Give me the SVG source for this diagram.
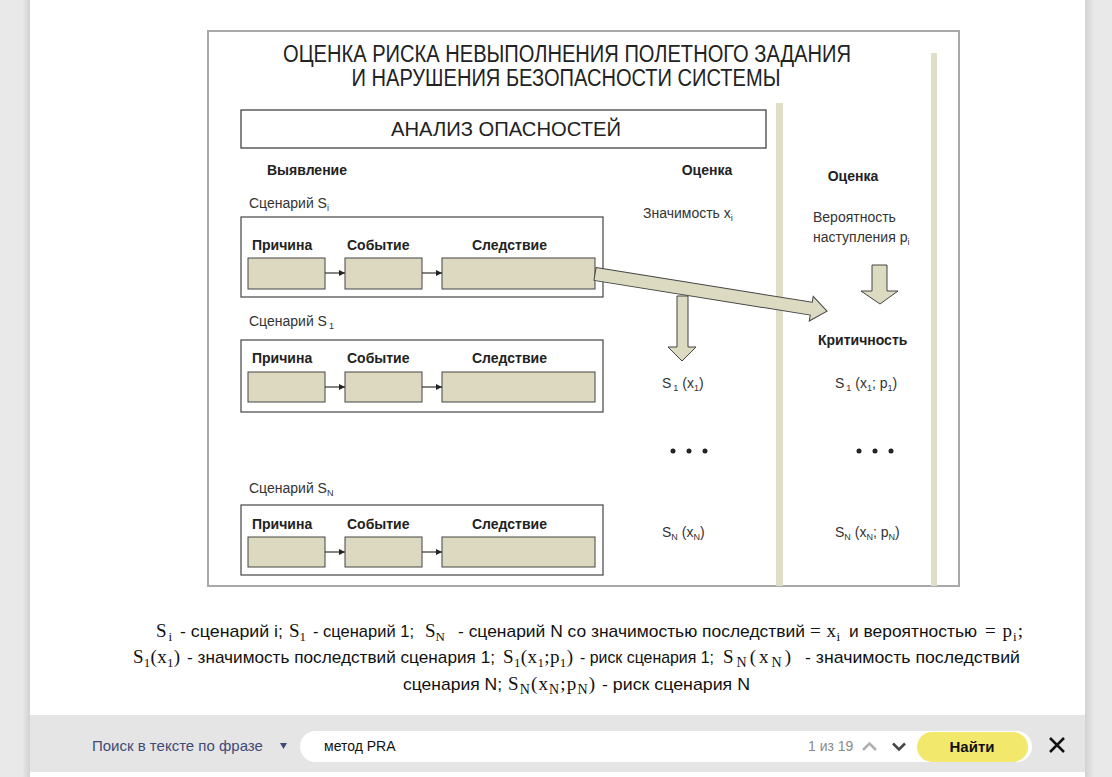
<svg xmlns="http://www.w3.org/2000/svg" width="1112" height="777" viewBox="0 0 1112 777">
<defs>
<linearGradient id="shL" x1="0" x2="1" y1="0" y2="0"><stop offset="0" stop-color="#e9e9e9"/><stop offset="1" stop-color="#d2d2d2"/></linearGradient>
<linearGradient id="shR" x1="0" x2="1" y1="0" y2="0"><stop offset="0" stop-color="#d2d2d2"/><stop offset="1" stop-color="#e9e9e9"/></linearGradient>
<marker id="ah" viewBox="0 0 10 10" refX="10" refY="5" markerWidth="8" markerHeight="6" markerUnits="userSpaceOnUse" orient="auto"><path d="M0,0 L10,5 L0,10 z" fill="#222"/></marker>
<style>
.s{font-family:"Liberation Sans",Arial,sans-serif;fill:#222}
.b{font-family:"Liberation Sans",Arial,sans-serif;font-weight:bold;fill:#222;font-size:14px}
.r{font-family:"Liberation Sans",Arial,sans-serif;fill:#333;font-size:14px}
.t{font-family:"Liberation Serif","Times New Roman",serif;fill:#111;font-size:19px}
.cap{font-family:"Liberation Sans",Arial,sans-serif;fill:#111;font-size:17px}
.frame{fill:#fff;stroke:#a8a8a8;stroke-width:2}
.box{fill:#fff;stroke:#444;stroke-width:1.2}
.in{fill:#dcd9c0;stroke:#444;stroke-width:1}
.bar{fill:#e0dec8}
.big{fill:#dcdac0;stroke:#444;stroke-width:1}
.sm{stroke:#333;stroke-width:1.2;fill:none}
.dot{fill:#222}
.ui{font-family:"Liberation Sans",Arial,sans-serif}
</style>
</defs>
<!-- page -->
<rect x="0" y="0" width="1112" height="777" fill="#e9e9e9"/>
<rect x="22" y="0" width="8" height="777" fill="url(#shL)"/>
<rect x="1085" y="0" width="9" height="777" fill="url(#shR)"/>
<rect x="30" y="0" width="1055" height="777" fill="#fff"/>

<!-- frame -->
<rect class="frame" x="208" y="31" width="751" height="555"/>
<g id="bars">
<rect class="bar" x="776" y="103" width="7" height="483"/>
<rect class="bar" x="931" y="53" width="6" height="533"/>
</g>

<g id="title">
<text class="s" x="567" y="62" font-size="23" text-anchor="middle" textLength="568" lengthAdjust="spacingAndGlyphs">ОЦЕНКА РИСКА НЕВЫПОЛНЕНИЯ ПОЛЕТНОГО ЗАДАНИЯ</text>
<text class="s" x="566" y="86" font-size="23" text-anchor="middle" textLength="429" lengthAdjust="spacingAndGlyphs">И НАРУШЕНИЯ БЕЗОПАСНОСТИ СИСТЕМЫ</text>
</g>

<g id="analiz">
<rect x="241" y="110" width="525" height="38" fill="#fff" stroke="#444" stroke-width="1.3"/>
<text class="s" x="506" y="136" font-size="20" text-anchor="middle" textLength="230" lengthAdjust="spacingAndGlyphs">АНАЛИЗ ОПАСНОСТЕЙ</text>
</g>

<g id="headers">
<text class="b" x="267" y="175">Выявление</text>
<text class="b" x="707" y="175" text-anchor="middle">Оценка</text>
<text class="b" x="853" y="181" text-anchor="middle">Оценка</text>
<text class="r" x="643" y="218">Значимость x<tspan font-size="9" dy="3">i</tspan></text>
<text class="r" x="813" y="222">Вероятность</text>
<text class="r" x="813" y="242">наступления p<tspan font-size="9" dy="3">i</tspan></text>
<text class="b" x="818" y="345">Критичность</text>
</g>

<g id="scenario-i">
<text class="r" x="249" y="208">Сценарий S<tspan font-size="9" dy="3">i</tspan></text>
<rect class="box" x="241" y="217" width="362" height="80"/>
<text class="b" x="252" y="250">Причина</text>
<text class="b" x="347" y="250">Событие</text>
<text class="b" x="472" y="250">Следствие</text>
<rect class="in" x="248" y="258" width="77" height="31"/>
<rect class="in" x="345" y="258" width="77" height="31"/>
<rect class="in" x="442" y="258" width="153" height="31"/>
</g>

<g id="scenario-1">
<text class="r" x="249" y="326">Сценарий S<tspan font-size="9" dx="2" dy="3">1</tspan></text>
<rect class="box" x="241" y="340" width="362" height="72"/>
<text class="b" x="252" y="363">Причина</text>
<text class="b" x="347" y="363">Событие</text>
<text class="b" x="472" y="363">Следствие</text>
<rect class="in" x="248" y="372" width="77" height="30"/>
<rect class="in" x="345" y="372" width="77" height="30"/>
<rect class="in" x="442" y="372" width="153" height="30"/>
</g>

<g id="scenario-N">
<text class="r" x="249" y="493">Сценарий S<tspan font-size="9" dy="3">N</tspan></text>
<rect class="box" x="241" y="505" width="362" height="70"/>
<text class="b" x="252" y="529">Причина</text>
<text class="b" x="347" y="529">Событие</text>
<text class="b" x="472" y="529">Следствие</text>
<rect class="in" x="248" y="537" width="77" height="30"/>
<rect class="in" x="345" y="537" width="77" height="30"/>
<rect class="in" x="442" y="537" width="153" height="30"/>
</g>

<!-- connectors -->
<g id="connectors">
<polygon class="big" points="677,296 688,296 688,347 696,347 682,361 668,347 677,347"/>
<polygon class="big" points="872,265 887,265 887,291 898,291 880,304 861,291 872,291"/>
<polygon class="big" transform="translate(595,274) rotate(9.1)" points="0,-6.5 219,-6.5 219,-12.5 235,0 219,12.5 219,6.5 0,6.5"/>
<line class="sm" x1="325" y1="273" x2="345" y2="273" marker-end="url(#ah)"/>
<line class="sm" x1="422" y1="273" x2="442" y2="273" marker-end="url(#ah)"/>
<line class="sm" x1="325" y1="387" x2="345" y2="387" marker-end="url(#ah)"/>
<line class="sm" x1="422" y1="387" x2="442" y2="387" marker-end="url(#ah)"/>
<line class="sm" x1="325" y1="552" x2="345" y2="552" marker-end="url(#ah)"/>
<line class="sm" x1="422" y1="552" x2="442" y2="552" marker-end="url(#ah)"/>
</g>

<g id="results">
<text class="r" x="662" y="388">S<tspan font-size="9" dx="2" dy="3">1</tspan><tspan dy="-3"> (x</tspan><tspan font-size="9" dy="3">1</tspan><tspan dy="-3">)</tspan></text>
<text class="r" x="835" y="388">S<tspan font-size="9" dx="2" dy="3">1</tspan><tspan dy="-3"> (x</tspan><tspan font-size="9" dy="3">1</tspan><tspan dy="-3">; p</tspan><tspan font-size="9" dy="3">1</tspan><tspan dy="-3">)</tspan></text>
<circle class="dot" cx="673" cy="451" r="2.5"/><circle class="dot" cx="689" cy="451" r="2.5"/><circle class="dot" cx="705" cy="451" r="2.5"/>
<circle class="dot" cx="859" cy="451" r="2.5"/><circle class="dot" cx="875" cy="451" r="2.5"/><circle class="dot" cx="891" cy="451" r="2.5"/>
<text class="r" x="662" y="537">S<tspan font-size="9" dy="3">N</tspan><tspan dy="-3"> (x</tspan><tspan font-size="9" dy="3">N</tspan><tspan dy="-3">)</tspan></text>
<text class="r" x="835" y="537">S<tspan font-size="9" dy="3">N</tspan><tspan dy="-3"> (x</tspan><tspan font-size="9" dy="3">N</tspan><tspan dy="-3">; p</tspan><tspan font-size="9" dy="3">N</tspan><tspan dy="-3">)</tspan></text>
</g>

<g id="caption">
<text class="t" x="156" y="637" textLength="16" lengthAdjust="spacing">S<tspan font-size="13" dy="4">i</tspan></text>
<text class="cap" x="180" y="637" textLength="103" lengthAdjust="spacingAndGlyphs">- сценарий i;</text>
<text class="t" x="289" y="637">S<tspan font-size="13" dy="4">1</tspan></text>
<text class="cap" x="313" y="637" textLength="101" lengthAdjust="spacingAndGlyphs">- сценарий 1;</text>
<text class="t" x="425" y="637">S<tspan font-size="13" dy="4">N</tspan></text>
<text class="cap" x="458" y="637" textLength="347" lengthAdjust="spacingAndGlyphs">- сценарий N со значимостью последствий</text>
<text class="t" x="810" y="637" textLength="30" lengthAdjust="spacing">= x<tspan font-size="13" dy="4">i</tspan></text>
<text class="cap" x="849" y="637" textLength="128" lengthAdjust="spacingAndGlyphs">и вероятностью</text>
<text class="t" x="985" y="637" textLength="38" lengthAdjust="spacing">= p<tspan font-size="13" dy="4">i</tspan><tspan dy="-4">;</tspan></text>

<text class="t" x="133" y="663" textLength="47" lengthAdjust="spacing">S<tspan font-size="13" dy="4">1</tspan><tspan dy="-4">(x</tspan><tspan font-size="13" dy="4">1</tspan><tspan dy="-4">)</tspan></text>
<text class="cap" x="187" y="663" textLength="308" lengthAdjust="spacingAndGlyphs">- значимость последствий сценария 1;</text>
<text class="t" x="503" y="663" textLength="70" lengthAdjust="spacing">S<tspan font-size="13" dy="4">1</tspan><tspan dy="-4">(x</tspan><tspan font-size="13" dy="4">1</tspan><tspan dy="-4">;p</tspan><tspan font-size="13" dy="4">1</tspan><tspan dy="-4">)</tspan></text>
<text class="cap" x="580" y="663" font-size="15.5" textLength="134" lengthAdjust="spacingAndGlyphs">- риск сценария 1;</text>
<text class="t" x="723" y="663" font-size="20" textLength="68" lengthAdjust="spacing">S<tspan font-size="14" dy="4">N</tspan><tspan dy="-4">(x</tspan><tspan font-size="14" dy="4">N</tspan><tspan dy="-4">)</tspan></text>
<text class="cap" x="805" y="663" textLength="215" lengthAdjust="spacingAndGlyphs">- значимость последствий</text>

<text class="cap" x="403" y="690" textLength="99" lengthAdjust="spacingAndGlyphs">сценария N;</text>
<text class="t" x="508" y="690" textLength="87" lengthAdjust="spacing" font-size="20">S<tspan font-size="14" dy="4">N</tspan><tspan dy="-4">(x</tspan><tspan font-size="14" dy="4">N</tspan><tspan dy="-4">;p</tspan><tspan font-size="14" dy="4">N</tspan><tspan dy="-4">)</tspan></text>
<text class="cap" x="602" y="690" textLength="148" lengthAdjust="spacingAndGlyphs">- риск сценария N</text>
</g>

<g id="searchbar">
<rect x="30" y="715" width="1055" height="57" fill="#e5e5e5"/>
<text class="ui" x="92" y="751" font-size="15" fill="#3f4a78">Поиск в тексте по фразе</text>
<polygon points="280,743 287,743 283.5,749" fill="#3f4a78"/>
<rect x="300" y="731" width="732" height="31" rx="15.5" fill="#fff"/>
<text class="ui" x="324" y="751" font-size="14" fill="#111">метод PRA</text>
<text class="ui" x="808" y="751" font-size="14" fill="#8a8a8a">1 из 19</text>
<polyline points="863,750 869.5,743.5 876,750" fill="none" stroke="#b0b0b0" stroke-width="2.5"/>
<polyline points="893,743.5 899,749.5 905,743.5" fill="none" stroke="#444" stroke-width="2.5"/>
<rect x="917" y="732" width="111" height="30" rx="15" fill="#f2e86c"/>
<text class="ui" x="972" y="752" font-size="15" font-weight="bold" fill="#111" text-anchor="middle">Найти</text>
<path d="M1050,738 L1064,752 M1064,738 L1050,752" stroke="#111" stroke-width="2.5"/>
</g>
</svg>
